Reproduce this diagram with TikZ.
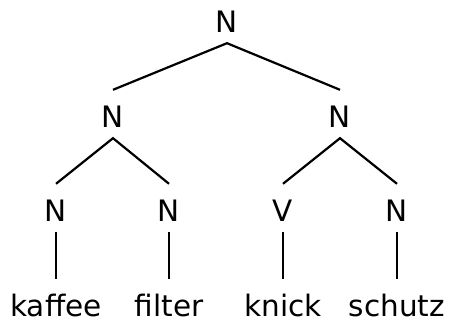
\documentclass[tikz,border=0pt]{standalone}
\usepackage{fontspec}
\setmainfont{DejaVu Sans}
\usetikzlibrary{positioning}

\begin{document}
\begin{tikzpicture}[
	x=1pt, y=1pt,
	% --- kiểu nút ---
	every node/.style={
		inner xsep=2pt, inner ysep=11pt,
		text height=26pt, text depth=0pt,
		anchor=base, font=\fontsize{29.5}{31}\selectfont
	},
	branch/.style={draw, line width=2.2pt}
	]
	\useasboundingbox (0,0) rectangle (449,-324);
	% Gốc
	\node (root) at (227,-32) {N};
	% Tầng 1
	\node (nl) at (113,-127) {N};
	\node (nr) at (340,-127) {N};
	% Tầng 2
	\node (kaf) at (56,-221) {N};
	\node (fil) at (169,-221) {N};
	\node (kni) at (283,-221) {V};
	\node (sch) at (397,-221) {N};
	% Lá (từ)
	\node (wkaf) at (56,-316) {kaffee};
	\node (wfil) at (169,-316) {filter};
	\node (wkni) at (283,-316) {knick};
	\node (wsch) at (397,-316) {schutz};

	% Cạnh
	\draw[branch] (nl.north) -- (root.south) -- (nr.north);
	\draw[branch] (kaf.north) -- (nl.south) -- (fil.north);
	\draw[branch] (kni.north) -- (nr.south) -- (sch.north);
	\foreach \a/\b in {kaf/wkaf, fil/wfil, kni/wkni, sch/wsch}
		\draw[branch] (\a.south) -- (\b.north);
\end{tikzpicture}
\end{document}
